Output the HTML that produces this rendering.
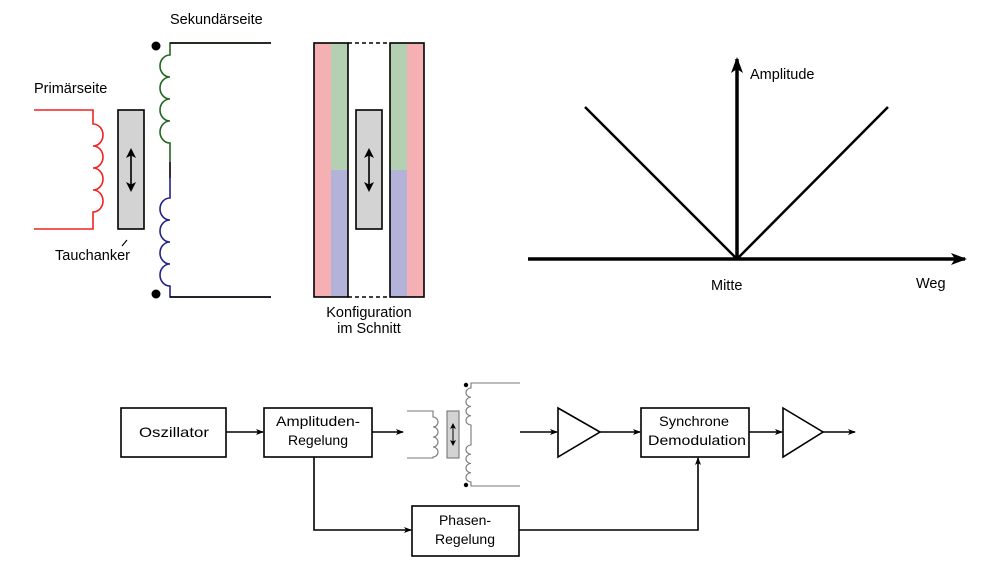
<!DOCTYPE html>
<html><head><meta charset="utf-8"><style>
html,body{margin:0;padding:0;background:#fff;}
svg{display:block;font-family:"Liberation Sans","DejaVu Sans",sans-serif;}
</style></head><body>
<svg width="999" height="562" viewBox="0 0 999 562" xmlns="http://www.w3.org/2000/svg">
<defs>
<marker id="ah" markerWidth="8" markerHeight="8" refX="7" refY="4" orient="auto" markerUnits="userSpaceOnUse"><path d="M0,1 L8,4 L0,7 L2,4 z" fill="#000"/></marker>
<marker id="ab" markerWidth="16" markerHeight="12" refX="14" refY="6" orient="auto" markerUnits="userSpaceOnUse"><path d="M0,0 L16,6 L0,12 L4,6 z" fill="#000"/></marker>
<marker id="as" markerWidth="10" markerHeight="10" refX="8" refY="5" orient="auto-start-reverse" markerUnits="userSpaceOnUse"><path d="M0,0 L10,5 L0,10 L2.5,5 z" fill="#000"/></marker>
<marker id="ass" markerWidth="6" markerHeight="6" refX="5" refY="3" orient="auto-start-reverse" markerUnits="userSpaceOnUse"><path d="M0,0 L6,3 L0,6 L1.5,3 z" fill="#000"/></marker>
</defs>
<!-- Top left transformer -->
<text x="170" y="24" font-size="14.5">Sekundärseite</text>
<text x="34" y="93" font-size="14.5">Primärseite</text>
<path d="M34,110 H93 V124 a10,11 0 0 1 0,22 a10,11 0 0 1 0,22 a10,11 0 0 1 0,22 a10,11 0 0 1 0,22 V229 H34" fill="none" stroke="#e22" stroke-width="1.6"/>
<rect x="118" y="110" width="26" height="119" fill="#d3d3d3" stroke="#000" stroke-width="1.6"/>
<line x1="131" y1="150" x2="131" y2="190" stroke="#000" stroke-width="1.6" marker-start="url(#as)" marker-end="url(#as)"/>
<line x1="127" y1="240" x2="122" y2="246" stroke="#000" stroke-width="1.2"/>
<text x="55" y="260" font-size="14.5">Tauchanker</text>
<path d="M271,43 H170 V55 a10,11 0 0 0 0,22 a10,11 0 0 0 0,22 a10,11 0 0 0 0,22 a10,11 0 0 0 0,22 V162" fill="none" stroke="#262" stroke-width="1.6"/>
<line x1="170" y1="162" x2="170" y2="178" stroke="#000" stroke-width="1.6"/>
<path d="M170,178 V198 a10,11 0 0 0 0,22 a10,11 0 0 0 0,22 a10,11 0 0 0 0,22 a10,11 0 0 0 0,22 V297 H271" fill="none" stroke="#228" stroke-width="1.6"/>
<line x1="170" y1="43" x2="271" y2="43" stroke="#000" stroke-width="1.6"/>
<line x1="170" y1="297" x2="271" y2="297" stroke="#000" stroke-width="1.6"/>
<circle cx="156" cy="46" r="4.5"/><circle cx="156" cy="294" r="4.5"/>
<!-- Konfiguration -->
<rect x="314" y="43" width="17" height="254" fill="#f4b0b2"/>
<rect x="331" y="43" width="17" height="127" fill="#b3d0b3"/>
<rect x="331" y="170" width="17" height="127" fill="#b3b3da"/>
<rect x="390" y="43" width="17" height="127" fill="#b3d0b3"/>
<rect x="390" y="170" width="17" height="127" fill="#b3b3da"/>
<rect x="407" y="43" width="17" height="254" fill="#f4b0b2"/>
<rect x="314" y="43" width="34" height="254" fill="none" stroke="#000" stroke-width="1.6"/>
<rect x="390" y="43" width="34" height="254" fill="none" stroke="#000" stroke-width="1.6"/>
<line x1="348" y1="43" x2="390" y2="43" stroke="#000" stroke-width="1.4" stroke-dasharray="4,3"/>
<line x1="348" y1="297" x2="390" y2="297" stroke="#000" stroke-width="1.4" stroke-dasharray="4,3"/>
<rect x="356" y="110" width="26" height="119" fill="#d3d3d3" stroke="#000" stroke-width="1.6"/>
<line x1="369" y1="150" x2="369" y2="190" stroke="#000" stroke-width="1.6" marker-start="url(#as)" marker-end="url(#as)"/>
<text x="369" y="317" font-size="14.5" text-anchor="middle">Konfiguration</text>
<text x="369" y="333" font-size="14.5" text-anchor="middle">im Schnitt</text>
<!-- Graph -->
<line x1="528" y1="259" x2="965" y2="259" stroke="#000" stroke-width="3.5" marker-end="url(#ab)"/>
<line x1="737" y1="259" x2="737" y2="59" stroke="#000" stroke-width="3.5" marker-end="url(#ab)"/>
<polyline points="585,107 737,259 888,107" fill="none" stroke="#000" stroke-width="2.5"/>
<text x="750" y="79" font-size="14.5">Amplitude</text>
<text x="711" y="290" font-size="14.5">Mitte</text>
<text x="916" y="288" font-size="14.5">Weg</text>
<!-- Bottom block diagram -->
<g stroke="#000" stroke-width="1.6" fill="none">
<rect x="121" y="408" width="105" height="49"/>
<rect x="264" y="408" width="108" height="49"/>
<rect x="412" y="506" width="107" height="50"/>
<rect x="641" y="408" width="108" height="49"/>
<path d="M558,408 L600,432 L558,457 Z"/>
<path d="M783,408 L823,432 L783,457 Z"/>
<line x1="226" y1="432" x2="263" y2="432" marker-end="url(#ah)"/>
<line x1="372" y1="432" x2="403" y2="432" marker-end="url(#ah)"/>
<line x1="520" y1="432" x2="557" y2="432" marker-end="url(#ah)"/>
<line x1="600" y1="432" x2="640" y2="432" marker-end="url(#ah)"/>
<line x1="749" y1="432" x2="782" y2="432" marker-end="url(#ah)"/>
<line x1="823" y1="432" x2="855" y2="432" marker-end="url(#ah)"/>
<polyline points="314,457 314,530 411,530" marker-end="url(#ah)"/>
<polyline points="519,530 698,530 698,458" marker-end="url(#ah)"/>
</g>
<g stroke="#777" stroke-width="1.1" fill="none">
<path d="M407,411 H433 V417 a5,5 0 0 1 0,10 a5,5 0 0 1 0,10 a5,5 0 0 1 0,10 a5,5 0 0 1 0,10 V458 H407"/>
<rect x="447" y="411" width="12" height="47" fill="#d3d3d3"/>
<path d="M520,383 H471 V388 a5,4.6 0 0 0 0,9.25 a5,4.6 0 0 0 0,9.25 a5,4.6 0 0 0 0,9.25 a5,4.6 0 0 0 0,9.25 V445 a5,4.6 0 0 0 0,9.25 a5,4.6 0 0 0 0,9.25 a5,4.6 0 0 0 0,9.25 a5,4.6 0 0 0 0,9.25 V486 H520"/>
</g>
<line x1="453" y1="424" x2="453" y2="445" stroke="#000" stroke-width="1" marker-start="url(#ass)" marker-end="url(#ass)"/>
<circle cx="466" cy="385" r="2.2"/><circle cx="466" cy="485" r="2.2"/>
<g font-size="14" text-anchor="middle">
<text x="174" y="437" textLength="70" lengthAdjust="spacingAndGlyphs">Oszillator</text>
<text x="318" y="426" textLength="84" lengthAdjust="spacingAndGlyphs">Amplituden-</text>
<text x="318" y="445" textLength="60" lengthAdjust="spacingAndGlyphs">Regelung</text>
<text x="465" y="525" textLength="52" lengthAdjust="spacingAndGlyphs">Phasen-</text>
<text x="465" y="544" textLength="60" lengthAdjust="spacingAndGlyphs">Regelung</text>
<text x="694" y="426" textLength="70" lengthAdjust="spacingAndGlyphs">Synchrone</text>
<text x="697" y="445" textLength="98" lengthAdjust="spacingAndGlyphs">Demodulation</text>
</g>
</svg>
</body></html>
